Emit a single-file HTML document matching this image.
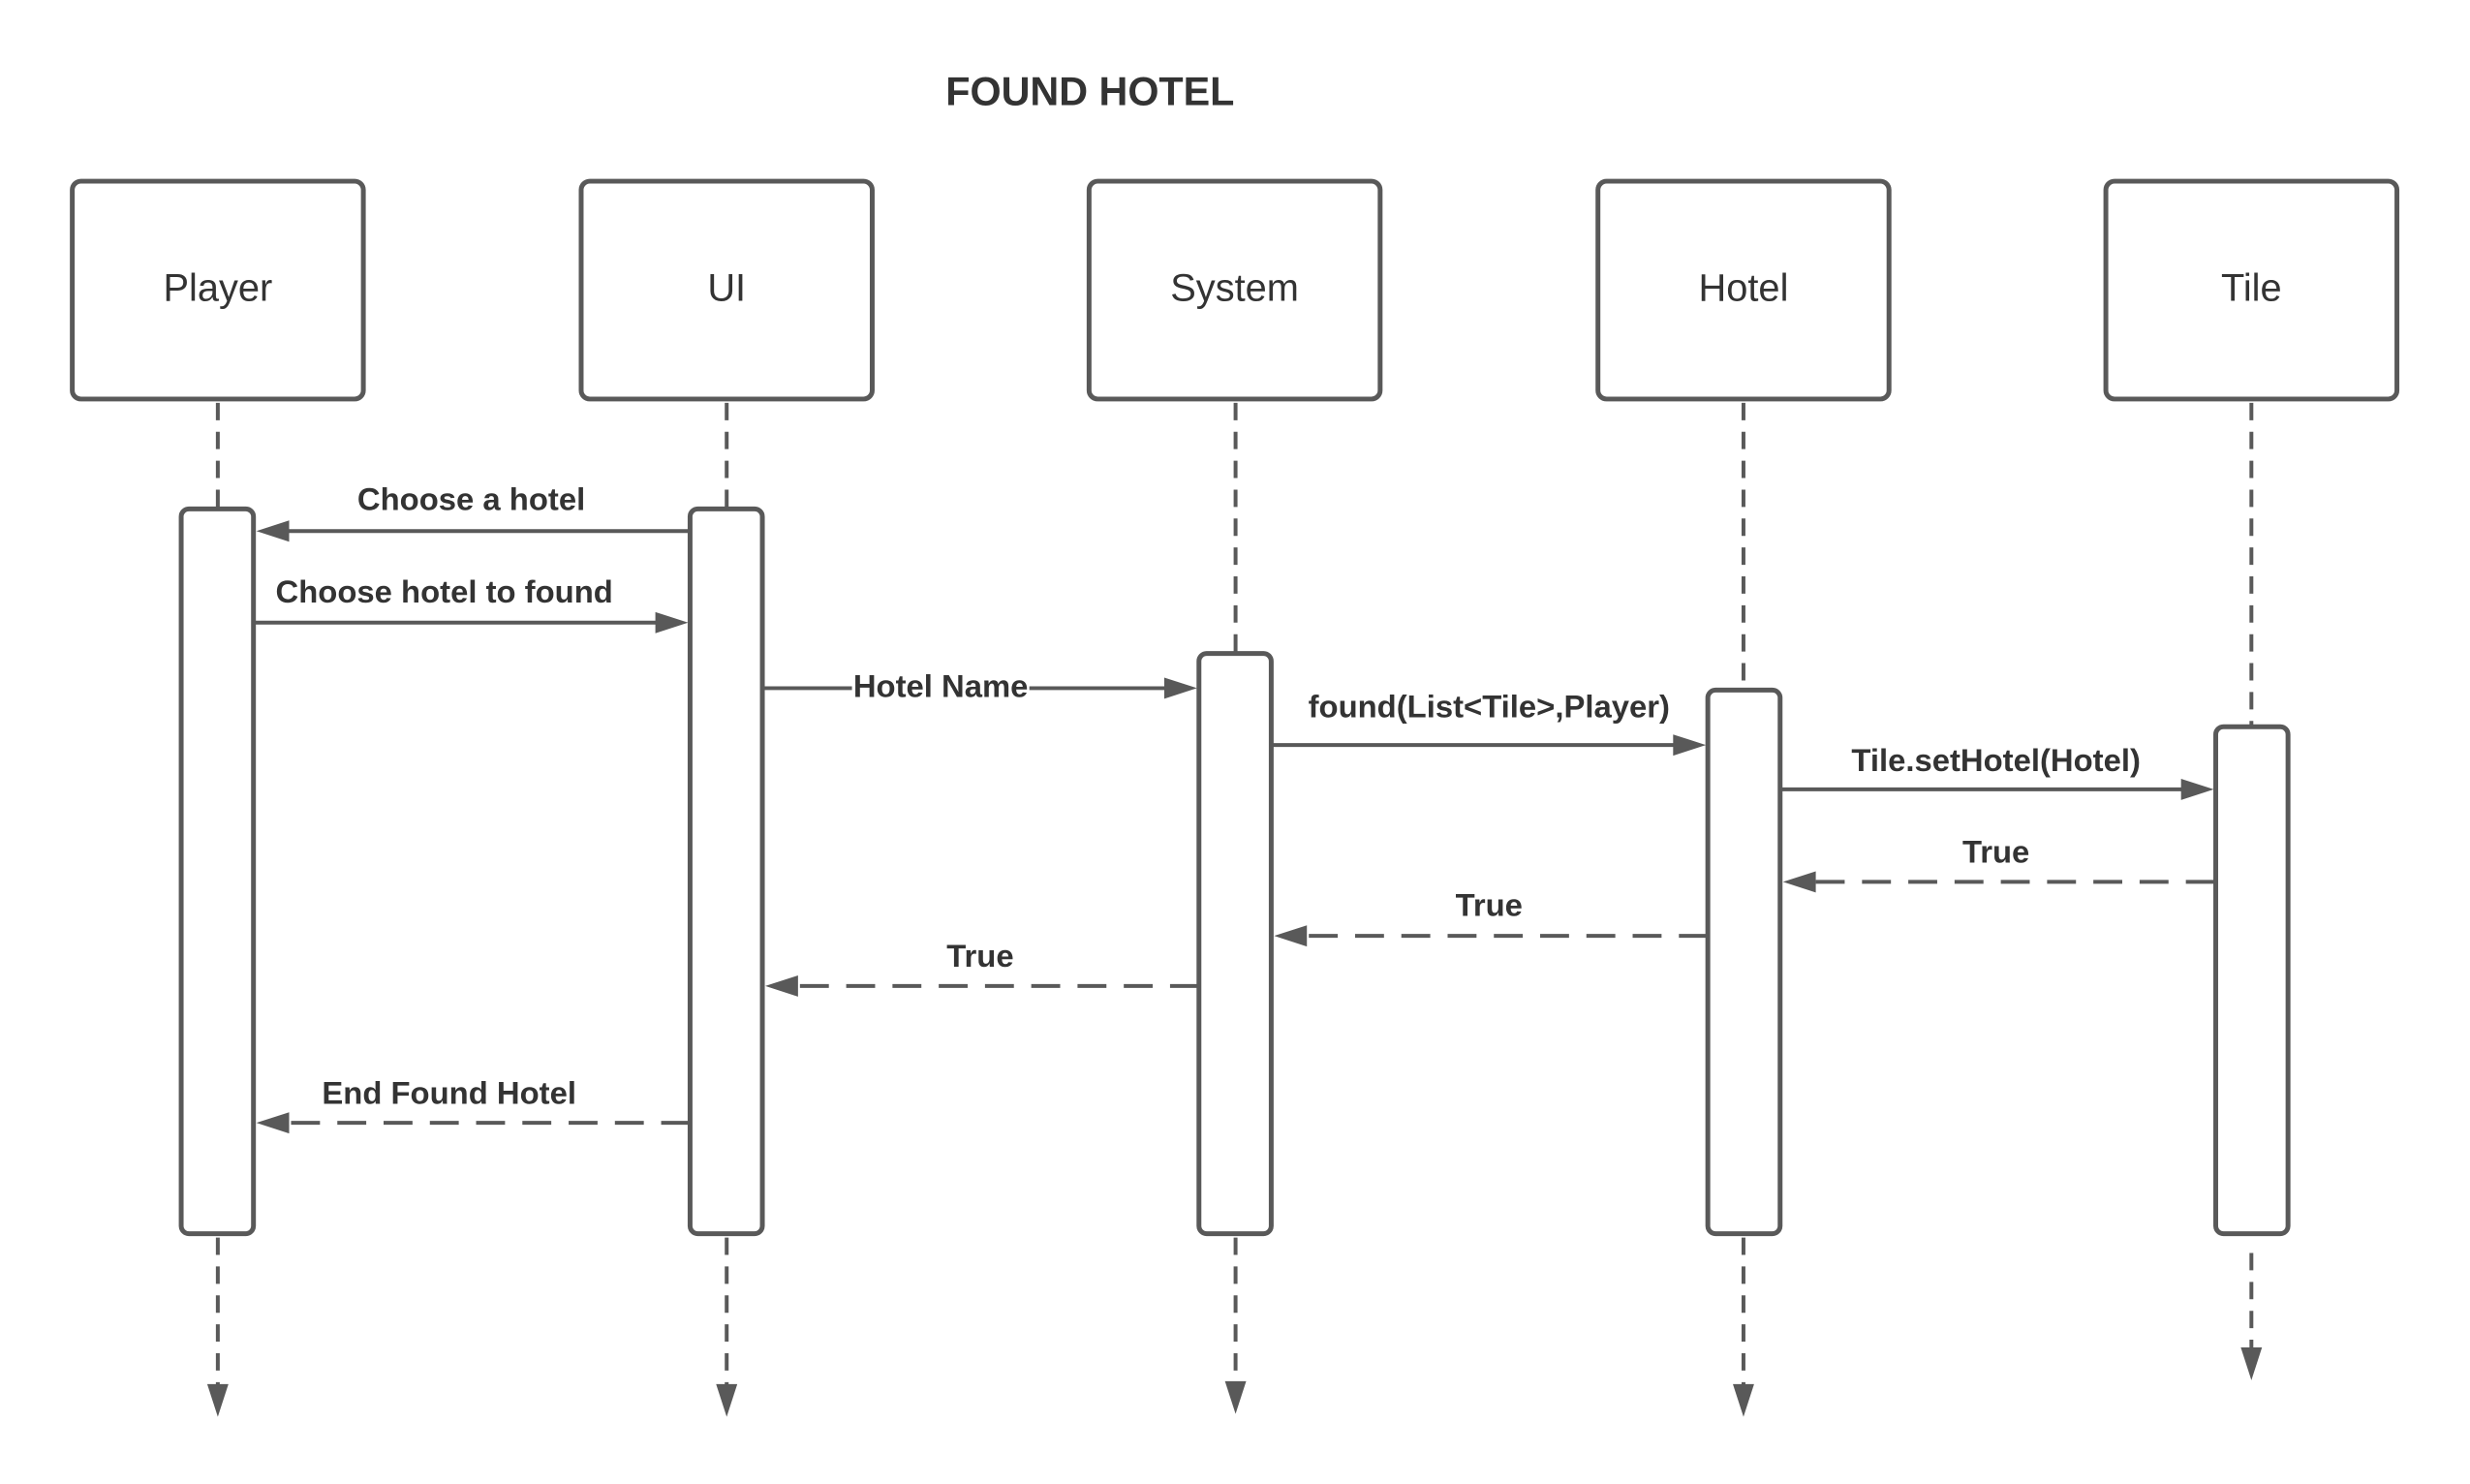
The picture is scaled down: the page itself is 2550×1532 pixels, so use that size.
<!DOCTYPE html>
<html><head><meta charset="utf-8"><style>
html,body{margin:0;padding:0;background:#fff;}
svg{display:block;}
text{font-family:"Liberation Sans",Arial,sans-serif;fill:#333;}
.b{font-weight:bold;font-size:33px;}
.n{font-size:40px;}
</style></head><body>
<svg width="2550" height="1532" viewBox="0 0 2550 1532" xmlns="http://www.w3.org/2000/svg">
<g transform="scale(0.995)">
<text x="1131" y="109" text-anchor="middle" class="b" style="font-size:41.5px">FOUND HOTEL</text>
<g fill="#fff" stroke="#595959" stroke-width="5">
<rect x="75" y="188" width="302" height="226" rx="9"/>
<rect x="603" y="188" width="302" height="226" rx="9"/>
<rect x="1130" y="188" width="302" height="226" rx="9"/>
<rect x="1658" y="188" width="302" height="226" rx="9"/>
<rect x="2185" y="188" width="302" height="226" rx="9"/>
</g>
<g text-anchor="middle" class="n">
<text x="226" y="312">Player</text>
<text x="754" y="312">UI</text>
<text x="1281" y="312">System</text>
<text x="1809" y="312">Hotel</text>
<text x="2336" y="312">Tile</text>
</g>
<g stroke="#595959" stroke-width="4" stroke-dasharray="18,12" fill="none">
<line x1="226" y1="418" x2="226" y2="528"/><line x1="226" y1="1284" x2="226" y2="1440"/>
<line x1="754" y1="418" x2="754" y2="528"/><line x1="754" y1="1284" x2="754" y2="1440"/>
<line x1="1282" y1="418" x2="1282" y2="678"/><line x1="1282" y1="1284" x2="1282" y2="1437"/>
<line x1="1809" y1="418" x2="1809" y2="716"/><line x1="1809" y1="1284" x2="1809" y2="1440"/>
<line x1="2336" y1="418" x2="2336" y2="754"/><line x1="2336" y1="1300" x2="2336" y2="1402"/>
</g>
<g fill="#595959">
<polygon points="215,1436 237,1436 226,1470"/>
<polygon points="743,1436 765,1436 754,1470"/>
<polygon points="1271,1433 1293,1433 1282,1467"/>
<polygon points="1798,1436 1820,1436 1809,1470"/>
<polygon points="2325,1398 2347,1398 2336,1432"/>
</g>
<g fill="#fff" stroke="#595959" stroke-width="5">
<rect x="188" y="528" width="75" height="752" rx="8"/>
<rect x="716" y="528" width="75" height="752" rx="8"/>
<rect x="1244" y="678" width="75" height="602" rx="8"/>
<rect x="1772" y="716" width="75" height="564" rx="8"/>
<rect x="2299" y="754" width="75" height="526" rx="8"/>
</g>
<g stroke="#595959" stroke-width="4" fill="none">
<line x1="716" y1="551" x2="296" y2="551"/>
<line x1="265" y1="646" x2="685" y2="646"/>
<line x1="793" y1="714" x2="1213" y2="714"/>
<line x1="1321" y1="773" x2="1741" y2="773"/>
<line x1="1849" y1="819" x2="2268" y2="819"/>
</g>
<g stroke="#595959" stroke-width="4" fill="none" stroke-dasharray="30,18">
<line x1="2298" y1="915" x2="1880" y2="915"/>
<line x1="1772" y1="971" x2="1352" y2="971"/>
<line x1="1244" y1="1023" x2="824" y2="1023"/>
<line x1="716" y1="1165" x2="296" y2="1165"/>
</g>
<g fill="#595959">
<polygon points="266,551 300,540 300,562"/>
<polygon points="714,646 680,635 680,657"/>
<polygon points="1242,714 1208,703 1208,725"/>
<polygon points="1770,773 1736,762 1736,784"/>
<polygon points="2297,819 2263,808 2263,830"/>
<polygon points="1850,915 1884,904 1884,926"/>
<polygon points="1322,971 1356,960 1356,982"/>
<polygon points="794,1023 828,1012 828,1034"/>
<polygon points="266,1165 300,1154 300,1176"/>
</g>
<rect x="884" y="694" width="184" height="38" fill="#fff"/>
<g class="b" text-anchor="middle">
<text x="489" y="529">Choose a hotel</text>
<text x="461" y="625">Choose hotel to found</text>
<text x="976" y="723">Hotel Name</text>
<text x="1545" y="744">found(List&lt;Tile&gt;,Player)</text>
<text x="2071" y="800">Tile.setHotel(Hotel)</text>
<text x="2071" y="895">True</text>
<text x="1545" y="950">True</text>
<text x="1017" y="1003">True</text>
<text x="466" y="1145">End Found Hotel</text>
</g>
</g>
</svg>
</body></html>
